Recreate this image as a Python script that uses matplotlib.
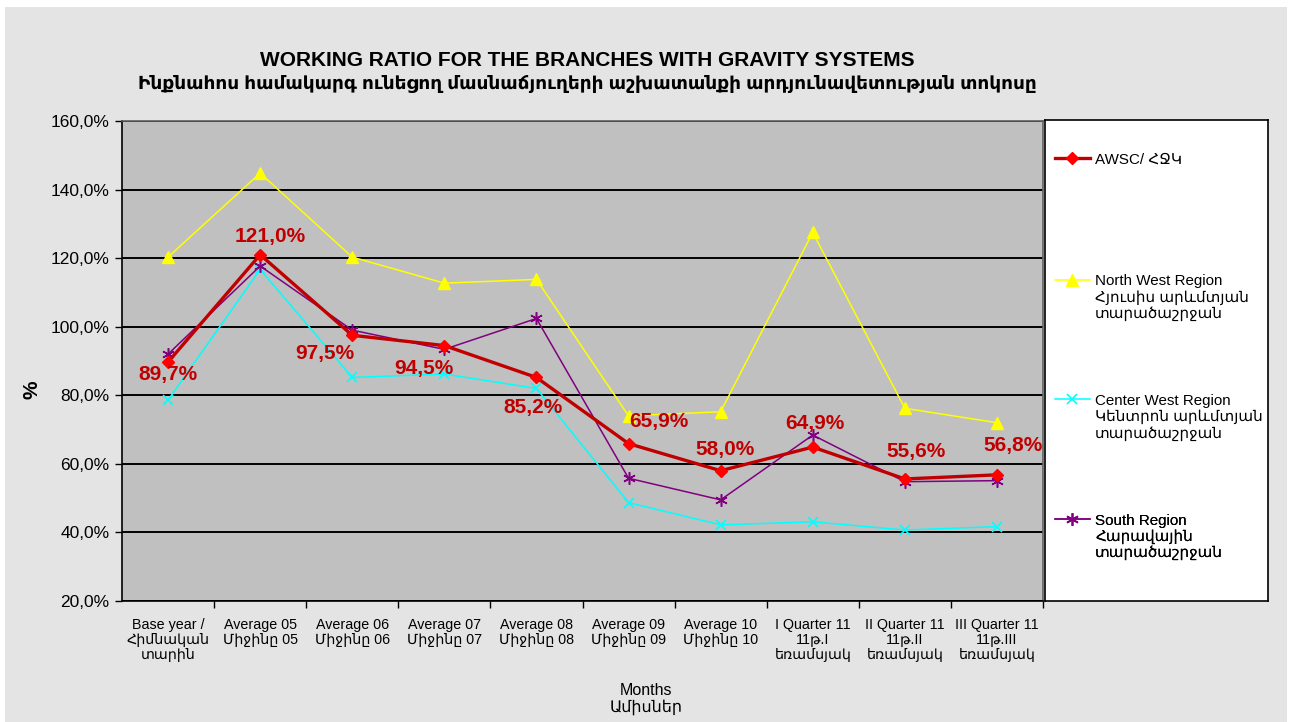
import matplotlib
matplotlib.use('Agg')
import matplotlib.pyplot as plt
from matplotlib.patches import Rectangle

plt.rcParams['font.family'] = ['Liberation Sans', 'DejaVu Sans']

# Categories (x axis) and the four series, in percent
categories = [
    "Base year /\nՀիմնական\nտարին",
    "Average 05\nՄիջինը 05",
    "Average 06\nՄիջինը 06",
    "Average 07\nՄիջինը 07",
    "Average 08\nՄիջինը 08",
    "Average 09\nՄիջինը 09",
    "Average 10\nՄիջինը 10",
    "I Quarter 11\n11թ.I\nեռամսյակ",
    "II Quarter 11\n11թ.II\nեռամսյակ",
    "III Quarter 11\n11թ.III\nեռամսյակ",
]
awsc = [89.7, 121.0, 97.5, 94.5, 85.2, 65.9, 58.0, 64.9, 55.6, 56.8]
north_west = [120.3, 144.8, 120.3, 112.7, 113.8, 74.0, 75.2, 127.5, 76.2, 72.0]
center_west = [78.6, 116.7, 85.2, 86.2, 82.0, 48.7, 42.2, 43.1, 40.7, 41.7]
south = [92.0, 117.7, 99.0, 93.4, 102.4, 55.8, 49.5, 68.4, 54.8, 55.1]

series_labels = [
    "AWSC/ ՀՋԿ",
    "North West Region\nՀյուսիս արևմտյան\nտարածաշրջան",
    "Center West Region\nԿենտրոն արևմտյան\nտարածաշրջան",
    "South Region\nՀարավային\nտարածաշրջան",
]

# pixel offsets of the AWSC value labels from their points
label_offsets = [(0, -12), (10, 18), (-27, -18), (-20, -23), (-3, -30),
                 (30, 22), (4, 21), (2, 24), (11, 27), (16, 29)]

W, H = 1290, 722
fig = plt.figure(figsize=(W / 100, H / 100), dpi=100)
fig.patch.set_facecolor('white')
fig.add_artist(Rectangle((5 / W, 0), (W - 8) / W, 1 - 7 / H, transform=fig.transFigure,
                         facecolor='#e4e4e4', edgecolor='none', zorder=-10))

ax = fig.add_axes([122 / W, 1 - 601 / H, (1043 - 122) / W, (601 - 121) / H])
ax.set_facecolor('#c0c0c0')

x = list(range(len(categories)))
l_nw, = ax.plot(x, north_west, color='#ffff00', lw=1.1, marker='^', ms=8,
                mfc='#ffff00', mec='#ffff00', zorder=3)
l_cw, = ax.plot(x, center_west, color='#00ffff', lw=1.1, marker='x', ms=7,
                mew=1.2, zorder=3)
l_s, = ax.plot(x, south, color='#800080', lw=1.1, marker=(6, 2, 0), ms=9,
               mew=1.1, zorder=3)
l_a, = ax.plot(x, awsc, color='#c00000', lw=2.4, marker='D', ms=6,
               mfc='#ff0000', mec='#ff0000', zorder=4)

for xi, v, off in zip(x, awsc, label_offsets):
    ax.annotate(f"{v:.1f}%".replace('.', ','), (xi, v), xytext=off,
                textcoords='offset pixels', ha='center', va='center',
                fontsize=15, fontweight='bold', color='#c00000', zorder=5)

ax.set_xlim(-0.5, len(categories) - 0.5)
ax.set_ylim(20, 160)
ax.set_yticks(range(20, 161, 20))
ax.set_yticklabels([f"{t},0%" for t in range(20, 161, 20)], fontsize=12.5)
ax.set_xticks(x)
ax.set_xticklabels(categories, fontsize=10.3, linespacing=1.1)
ax.set_xticks([i + 0.5 for i in x], minor=True)
ax.tick_params(axis='x', which='major', length=0, pad=12)
ax.tick_params(axis='x', which='minor', length=5, width=1, direction='out')
ax.tick_params(axis='y', length=5, width=1, direction='out', pad=4)

ax.grid(axis='y', color='#000000', lw=1.4)
ax.set_axisbelow(True)
for side in ['left', 'bottom']:
    ax.spines[side].set_color('black')
    ax.spines[side].set_linewidth(1.2)
for side in ['top', 'right']:
    ax.spines[side].set_color('#606060')
    ax.spines[side].set_linewidth(1.2)

fig.text(32 / W, 1 - 390 / H, "%", rotation=90, fontsize=15, fontweight='bold',
         ha='center', va='center')
fig.text(646 / W, 1 - 699 / H, "Months\nԱմիսներ", fontsize=11.5, ha='center',
         va='center', linespacing=1.1)

fig.text(587 / W, 1 - 61 / H, "WORKING RATIO FOR THE BRANCHES WITH GRAVITY SYSTEMS",
         fontsize=15, fontweight='bold', ha='center', va='center')
fig.text(587 / W, 1 - 84 / H,
         "Ինքնահոս համակարգ ունեցող մասնաճյուղերի աշխատանքի արդյունավետության տոկոսը",
         fontsize=13.3, fontweight='bold', ha='center', va='center')

# legend box
legax = fig.add_axes([1045 / W, 1 - 601 / H, (1268 - 1045) / W, (601 - 120) / H])
legax.set_facecolor('white')
legax.set_xticks([])
legax.set_yticks([])
for sp in legax.spines.values():
    sp.set_color('black')
    sp.set_linewidth(1.2)

entry_tops = [0.932, 0.679, 0.430, 0.181]
for handle, label, top in zip([l_a, l_nw, l_cw, l_s], series_labels, entry_tops):
    leg = legax.legend([handle], [label], loc='upper left', bbox_to_anchor=(0.045, top),
                       frameon=False, fontsize=10.9, handlelength=2.3,
                       handletextpad=0.35, borderpad=0, borderaxespad=0)
    for t in leg.get_texts():
        t.set_linespacing(1.15)
    for col in leg._legend_handle_box.get_children():
        for row in col.get_children():
            row.align = 'top'
    legax.add_artist(leg)

fig.savefig('out.png', dpi=100, facecolor=fig.get_facecolor())
